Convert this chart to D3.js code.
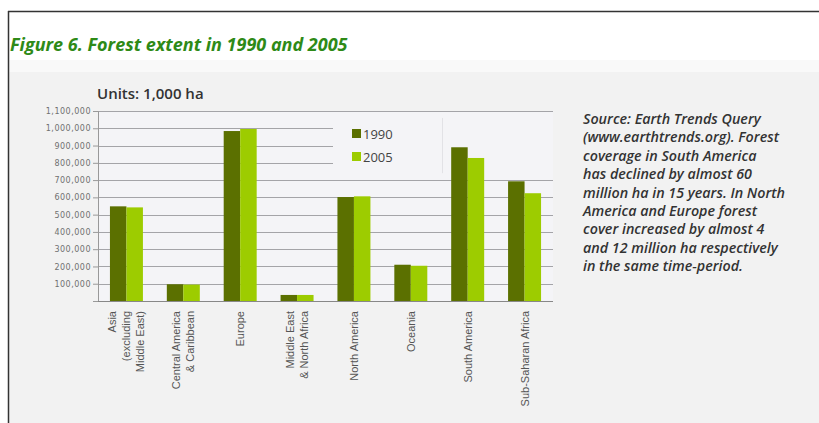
<!DOCTYPE html>
<html>
<head>
<meta charset="utf-8">
<script src="https://cdn.jsdelivr.net/npm/d3@7"></script>
<style>
  body { margin: 0; background: #fff; overflow: hidden; }
  svg { display: block; }
</style>
</head>
<body>
<div id="chart"></div>
<script>
// data (units: 1,000 ha)
const regions = [
  ["Asia", "(excluding", "Middle East)"],
  ["Central America", "& Caribbean"],
  ["Europe"],
  ["Middle East", "& North Africa"],
  ["North America"],
  ["Oceania"],
  ["South America"],
  ["Sub-Saharan Africa"]
];
const years = ["1990", "2005"];
const values1990 = [548000, 97000, 984000, 35000, 602000, 210000, 890000, 693000];
const values2005 = [542000, 95000, 996000, 35000, 606000, 204000, 828000, 624000];
const yTicks = [100000, 200000, 300000, 400000, 500000, 600000, 700000, 800000, 900000, 1000000, 1100000];
const noteLines = [
  "Source: Earth Trends Query",
  "(www.earthtrends.org). Forest",
  "coverage in South America",
  "has declined by almost 60",
  "million ha in 15 years. In North",
  "America and Europe forest",
  "cover increased by almost 4",
  "and 12 million ha respectively",
  "in the same time-period."
];

const colors = { "1990": "#5b7000", "2005": "#9dcc00" };

const W = 819, H = 423;
const svg = d3.select("#chart").append("svg").attr("width", W).attr("height", H);

// page frame
svg.append("rect").attr("x", 0).attr("y", 0).attr("width", W).attr("height", H).attr("fill", "#fff");
svg.append("rect").attr("x", 9).attr("y", 60).attr("width", W - 9).attr("height", 12).attr("fill", "#f9f9f9");
svg.append("rect").attr("x", 9).attr("y", 72).attr("width", W - 9).attr("height", H - 72).attr("fill", "#f2f2f2");
svg.append("line").attr("x1", 8).attr("x2", W).attr("y1", 11.5).attr("y2", 11.5).attr("stroke", "#333").attr("stroke-width", 1.5);
svg.append("line").attr("x1", 8.5).attr("x2", 8.5).attr("y1", 11).attr("y2", H).attr("stroke", "#333").attr("stroke-width", 1.5);

svg.append("text")
  .attr("x", 10).attr("y", 51)
  .attr("font-family", "Open Sans, sans-serif")
  .attr("font-size", 18).attr("font-weight", "bold").attr("font-style", "italic")
  .attr("fill", "#2e8a17")
  .text("Figure 6. Forest extent in 1990 and 2005");

svg.append("text")
  .attr("x", 97).attr("y", 99)
  .attr("font-family", "Open Sans, sans-serif")
  .attr("font-size", 15).attr("font-weight", 600)
  .attr("fill", "#333")
  .text("Units: 1,000 ha");

// scales
const plotLeft = 98, plotRight = 553, plotTop = 111, plotBottom = 301;
const x = d3.scaleBand().domain(d3.range(regions.length)).range([plotLeft, plotRight]).paddingInner(0.42).paddingOuter(0.21);
const xs = d3.scaleBand().domain(years).range([0, x.bandwidth()]);
const y = d3.scaleLinear().domain([0, 1100000]).range([plotBottom, plotTop]);

svg.append("rect").attr("x", plotLeft).attr("y", plotTop).attr("width", plotRight - plotLeft).attr("height", plotBottom - plotTop).attr("fill", "#f4f4f7");

// grid
svg.append("g").selectAll("line").data(yTicks).join("line")
  .attr("x1", plotLeft).attr("x2", plotRight)
  .attr("y1", d => Math.round(y(d)) + 0.5).attr("y2", d => Math.round(y(d)) + 0.5)
  .attr("stroke", "#a4a4a8").attr("stroke-width", 1);

// y axis
const yAxis = svg.append("g")
  .attr("transform", `translate(${plotLeft},0)`)
  .call(d3.axisLeft(y).tickValues(yTicks).tickFormat(d3.format(",")).tickSize(5).tickPadding(2));
yAxis.select(".domain").attr("stroke", "#999");
yAxis.selectAll(".tick line").attr("stroke", "#999");
yAxis.selectAll("text")
  .attr("font-family", "DejaVu Sans, sans-serif").attr("font-size", 8)
  .attr("letter-spacing", 0.5).attr("fill", "#707070");

// legend box hides the grid behind it
svg.append("rect").attr("x", 333).attr("y", y(1060000)).attr("width", plotRight - 333).attr("height", y(740000) - y(1060000)).attr("fill", "#f4f4f7");
svg.append("line").attr("x1", 442.5).attr("x2", 442.5).attr("y1", y(1060000)).attr("y2", y(740000)).attr("stroke", "#e2e2e6");

// bars
const series = [values1990, values2005];
const groups = svg.append("g").selectAll("g").data(regions.map((r, i) => i)).join("g")
  .attr("transform", i => `translate(${x(i)},0)`);
groups.selectAll("rect").data(i => years.map((yr, k) => ({ yr, v: series[k][i] }))).join("rect")
  .attr("x", d => xs(d.yr))
  .attr("y", d => y(d.v))
  .attr("width", xs.bandwidth())
  .attr("height", d => plotBottom - y(d.v))
  .attr("fill", d => colors[d.yr]);

// x axis line
svg.append("line").attr("x1", plotLeft).attr("x2", plotRight).attr("y1", plotBottom + 0.5).attr("y2", plotBottom + 0.5).attr("stroke", "#888").attr("stroke-width", 1.2);

// category labels, rotated
const lab = svg.append("g").selectAll("text").data(regions).join("text")
  .attr("transform", (d, i) => `translate(${x(i) + x.bandwidth() / 2},${plotBottom + 10}) rotate(-90)`)
  .attr("text-anchor", "end")
  .attr("font-family", "Liberation Sans, sans-serif")
  .attr("font-size", 11)
  .attr("fill", "#555");
lab.each(function (d) {
  const n = d.length;
  d3.select(this).selectAll("tspan").data(d).join("tspan")
    .attr("x", 0)
    .attr("y", (t, k) => (k - (n - 1) / 2) * 14 + 4)
    .text(t => t);
});

// legend
years.forEach((yr, k) => {
  const ly = 129 + k * 23;
  svg.append("rect").attr("x", 352).attr("y", ly).attr("width", 9).attr("height", 9).attr("fill", colors[yr]);
  svg.append("text").attr("x", 363).attr("y", ly + 9.5)
    .attr("font-family", "Open Sans, sans-serif").attr("font-size", 13)
    .attr("fill", "#444").text(yr);
});

// side note
svg.append("g").selectAll("text").data(noteLines).join("text")
  .attr("x", 583)
  .attr("y", (d, i) => 124 + i * 18.4)
  .attr("font-family", "Open Sans, sans-serif")
  .attr("font-size", 14.3).attr("font-style", "italic").attr("font-weight", 600)
  .attr("fill", "#333")
  .text(d => d);
</script>
</body>
</html>
